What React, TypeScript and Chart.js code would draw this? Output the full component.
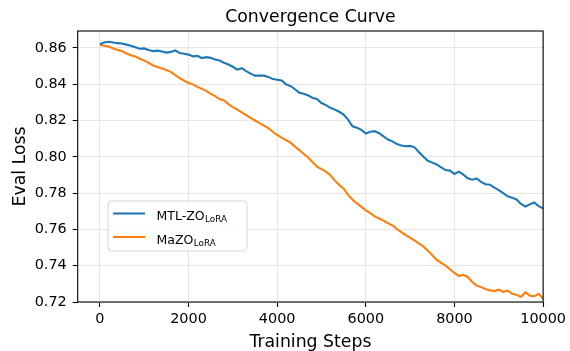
import React, { useEffect, useRef } from "react";
import { Chart, registerables } from "chart.js";
Chart.register(...registerables);

const steps = [
  0, 100, 200, 300, 400, 500, 600, 700, 800, 900,
  1000, 1100, 1200, 1300, 1400, 1500, 1600, 1700, 1800, 1900,
  2000, 2100, 2200, 2300, 2400, 2500, 2600, 2700, 2800, 2900,
  3000, 3100, 3200, 3300, 3400, 3500, 3600, 3700, 3800, 3900,
  4000, 4100, 4200, 4300, 4400, 4500, 4600, 4700, 4800, 4900,
  5000, 5100, 5200, 5300, 5400, 5500, 5600, 5700, 5800, 5900,
  6000, 6100, 6200, 6300, 6400, 6500, 6600, 6700, 6800, 6900,
  7000, 7100, 7200, 7300, 7400, 7500, 7600, 7700, 7800, 7900,
  8000, 8100, 8200, 8300, 8400, 8500, 8600, 8700, 8800, 8900,
  9000, 9100, 9200, 9300, 9400, 9500, 9600, 9700, 9800, 9900,
  10000,
];

const mtlZoLoss = [
  0.8620, 0.8630, 0.8634, 0.8630, 0.8626, 0.8624, 0.8618, 0.8612, 0.8603, 0.8595,
  0.8597, 0.8588, 0.8582, 0.8585, 0.8580, 0.8574, 0.8578, 0.8586, 0.8572, 0.8568,
  0.8563, 0.8553, 0.8556, 0.8544, 0.8549, 0.8545, 0.8536, 0.8530, 0.8518, 0.8508,
  0.8496, 0.8480, 0.8488, 0.8472, 0.8458, 0.8447, 0.8448, 0.8447, 0.8440, 0.8428,
  0.8424, 0.8420, 0.8399, 0.8390, 0.8372, 0.8352, 0.8347, 0.8338, 0.8324, 0.8318,
  0.8296, 0.8285, 0.8270, 0.8260, 0.8248, 0.8232, 0.8205, 0.8168, 0.8160, 0.8148,
  0.8128, 0.8138, 0.8141, 0.8130, 0.8112, 0.8095, 0.8085, 0.8070, 0.8062, 0.8058,
  0.8060, 0.8052, 0.8025, 0.8000, 0.7978, 0.7968, 0.7958, 0.7942, 0.7927, 0.7924,
  0.7905, 0.7918, 0.7902, 0.7882, 0.7874, 0.7881, 0.7862, 0.7849, 0.7846, 0.7830,
  0.7816, 0.7800, 0.7782, 0.7775, 0.7765, 0.7740, 0.7726, 0.7738, 0.7748, 0.7728,
  0.7716,
];

const maZoLoss = [
  0.8616, 0.8612, 0.8607, 0.8597, 0.8589, 0.8582, 0.8569, 0.8560, 0.8553, 0.8540,
  0.8530, 0.8518, 0.8503, 0.8495, 0.8487, 0.8478, 0.8468, 0.8450, 0.8434, 0.8419,
  0.8407, 0.8399, 0.8385, 0.8374, 0.8363, 0.8347, 0.8334, 0.8318, 0.8310, 0.8290,
  0.8274, 0.8260, 0.8245, 0.8230, 0.8214, 0.8200, 0.8185, 0.8172, 0.8158, 0.8138,
  0.8121, 0.8106, 0.8092, 0.8078, 0.8057, 0.8037, 0.8015, 0.7996, 0.7970, 0.7946,
  0.7932, 0.7918, 0.7898, 0.7870, 0.7845, 0.7824, 0.7790, 0.7763, 0.7743, 0.7724,
  0.7705, 0.7690, 0.7672, 0.7660, 0.7648, 0.7634, 0.7622, 0.7602, 0.7585, 0.7568,
  0.7553, 0.7539, 0.7522, 0.7505, 0.7482, 0.7458, 0.7432, 0.7415, 0.7400, 0.7380,
  0.7360, 0.7343, 0.7350, 0.7338, 0.7310, 0.7290, 0.7282, 0.7272, 0.7264, 0.7260,
  0.7268, 0.7256, 0.7262, 0.7245, 0.7240, 0.7228, 0.7254, 0.7235, 0.7232, 0.7245,
  0.7218,
];

const xTickValues = [0, 2000, 4000, 6000, 8000, 10000];
const yTickValues = [0.72, 0.74, 0.76, 0.78, 0.8, 0.82, 0.84, 0.86];
const seriesNames = ["MTL-ZO", "MaZO"];
const seriesSub = "LoRA";
const seriesColors = ["#1f77b4", "#ff7f0e"];
const titleText = "Convergence Curve";
const xLabel = "Training Steps";
const yLabel = "Eval Loss";

const FONT = "'DejaVu Sans', sans-serif";

export default function App() {
  const ref = useRef<HTMLCanvasElement>(null);

  useEffect(() => {
    document.body.style.margin = "0";
    const canvas = ref.current;
    if (!canvas) return;

    const overlay = {
      id: "overlay",
      afterDraw(chart: any) {
        const { ctx, chartArea: a } = chart;
        ctx.save();
        // spines
        ctx.strokeStyle = "#000";
        ctx.lineWidth = 1.1;
        ctx.strokeRect(a.left, a.top, a.right - a.left, a.bottom - a.top);

        const cx = (a.left + a.right) / 2;
        const cy = (a.top + a.bottom) / 2;
        ctx.fillStyle = "#000";
        ctx.textAlign = "center";
        ctx.textBaseline = "alphabetic";
        ctx.font = `17.3px ${FONT}`;
        ctx.fillText(titleText, cx, 22);
        ctx.fillText(xLabel, cx, 346.5);
        ctx.save();
        ctx.translate(25, cy);
        ctx.rotate(-Math.PI / 2);
        ctx.fillText(yLabel, 0, 0);
        ctx.restore();

        // legend
        const lx = 108, ly = 201, lw = 139, lh = 50, r = 4;
        ctx.beginPath();
        ctx.moveTo(lx + r, ly);
        ctx.arcTo(lx + lw, ly, lx + lw, ly + lh, r);
        ctx.arcTo(lx + lw, ly + lh, lx, ly + lh, r);
        ctx.arcTo(lx, ly + lh, lx, ly, r);
        ctx.arcTo(lx, ly, lx + lw, ly, r);
        ctx.closePath();
        ctx.fillStyle = "rgba(255,255,255,0.8)";
        ctx.fill();
        ctx.strokeStyle = "#d6d6d6";
        ctx.lineWidth = 1;
        ctx.stroke();

        const rows = [213.5, 237];
        seriesNames.forEach((name, i) => {
          const y = rows[i];
          ctx.strokeStyle = seriesColors[i];
          ctx.lineWidth = 2.1;
          ctx.beginPath();
          ctx.moveTo(113, y);
          ctx.lineTo(145, y);
          ctx.stroke();
          ctx.fillStyle = "#000";
          ctx.textAlign = "left";
          ctx.textBaseline = "alphabetic";
          ctx.font = `12.5px ${FONT}`;
          const tx = 156.5;
          const by = y + 6.5;
          ctx.fillText(name, tx, by);
          const w = ctx.measureText(name).width;
          ctx.font = `8.8px ${FONT}`;
          ctx.fillText(seriesSub, tx + w + 0.5, by + 2);
        });
        ctx.restore();
      },
    };

    const mkData = (vals: number[]) => steps.map((s, i) => ({ x: s, y: vals[i] }));

    const chart = new Chart(canvas, {
      type: "line",
      data: {
        datasets: [
          {
            label: seriesNames[0] + seriesSub,
            data: mkData(mtlZoLoss),
            borderColor: seriesColors[0],
            backgroundColor: seriesColors[0],
            borderWidth: 2.1,
            pointRadius: 0,
            tension: 0,
          },
          {
            label: seriesNames[1] + seriesSub,
            data: mkData(maZoLoss),
            borderColor: seriesColors[1],
            backgroundColor: seriesColors[1],
            borderWidth: 2.1,
            pointRadius: 0,
            tension: 0,
          },
        ],
      },
      options: {
        responsive: false,
        animation: false,
        devicePixelRatio: 1,
        layout: { padding: { top: 31, right: 24.7, left: 0, bottom: 0 } },
        plugins: {
          legend: { display: false },
          title: { display: false },
          tooltip: { enabled: false },
        },
        scales: {
          x: {
            type: "linear",
            min: -500,
            max: 10000,
            afterBuildTicks: (s: any) => {
              s.ticks = xTickValues.map((v) => ({ value: v }));
            },
            afterFit: (s: any) => {
              s.height = 49;
            },
            border: { display: false },
            grid: {
              color: "#e6e6e6",
              lineWidth: 1,
              tickColor: "#000",
              tickLength: 5,
              tickWidth: 1.1,
            },
            ticks: {
              color: "#000",
              font: { family: FONT, size: 14.4 },
              padding: 4,
              maxRotation: 0,
              callback: (v: any) => String(v),
            },
          },
          y: {
            type: "linear",
            min: 0.72,
            max: 0.8693,
            afterBuildTicks: (s: any) => {
              s.ticks = yTickValues.map((v) => ({ value: v }));
            },
            afterFit: (s: any) => {
              s.width = 77.7;
            },
            border: { display: false },
            grid: {
              color: "#e6e6e6",
              lineWidth: 1,
              tickColor: "#000",
              tickLength: 5,
              tickWidth: 1.1,
            },
            ticks: {
              color: "#000",
              font: { family: FONT, size: 14.4 },
              padding: 6,
              callback: (v: any) => Number(v).toFixed(2),
            },
          },
        },
      },
      plugins: [overlay],
    } as any);

    return () => chart.destroy();
  }, []);

  return (
    <div style={{ width: 570, height: 351 }}>
      <canvas ref={ref} width={570} height={351} style={{ display: "block" }} />
    </div>
  );
}
